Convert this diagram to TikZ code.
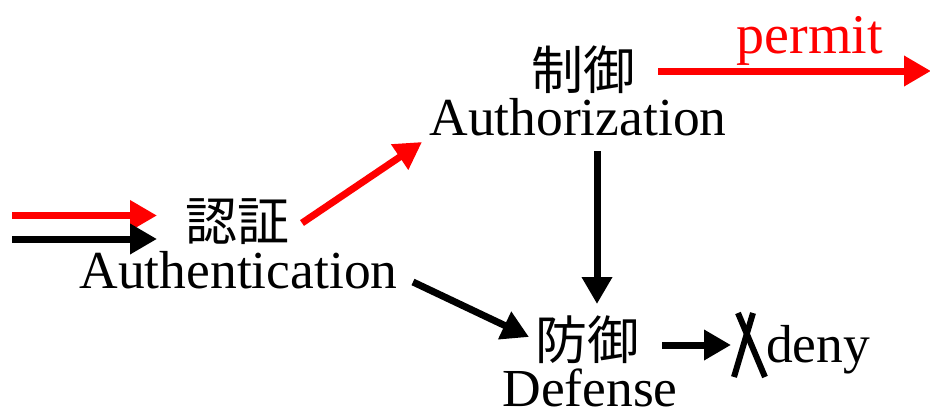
\documentclass[tikz,border=0pt]{standalone}
\usepackage{fontspec}
\setmainfont{Liberation Serif}
\newfontfamily\cjk{Noto Sans CJK JP}
\usetikzlibrary{arrows.meta}
\tikzset{
  jp/.style={inner sep=0pt, font=\cjk\fontsize{52}{58}\selectfont},
  en/.style={inner sep=0pt, anchor=base, font=\fontsize{53.5}{60}\selectfont},
  arr/.style={line width=7pt, -{Triangle[length=27pt,width=29pt]}},
  redarr/.style={arr, draw=red, color=red},
  blkarr/.style={arr, draw=black}
}
\begin{document}
\begin{tikzpicture}[x=1pt,y=-1pt]
\useasboundingbox (0,0) rectangle (930,410);
% nodes
\node[jp] (ninsho) at (237,222) {認証};
\node[en] (authn) at (238.5,288) {Authentication};
\node[jp] (seigyo) at (583,70) {制御};
\node[en] (authz) at (578,135) {Authorization};
\node[jp] (bogyo) at (587,340) {防御};
\node[en] (def) at (590,406) {Defense};
\node[en, anchor=base west] (deny) at (766,362) {deny};
\node[en, text=red, font=\fontsize{56}{62}\selectfont] (permit) at (810,53) {permit};
% coordinates
\coordinate (inR) at (12,215.5);
\coordinate (inRe) at (157,215.5);
\coordinate (inB) at (12,239);
\coordinate (inBe) at (157,239);
\coordinate (nS) at (302,223);
\coordinate (nE) at (422,142);
\coordinate (aS) at (413,282);
\coordinate (aE) at (529,337);
\coordinate (zS) at (597,151);
\coordinate (zE) at (597,304);
\coordinate (pS) at (658,71);
\coordinate (pE) at (931,71);
\coordinate (dS) at (662,345);
\coordinate (dE) at (731,345);
% arrows
\draw[redarr] (inR) -- (inRe);
\draw[blkarr] (inB) -- (inBe);
\draw[redarr] (nS) -- (nE);
\draw[blkarr] (aS) -- (aE);
\draw[blkarr] (zS) -- (zE);
\draw[redarr] (pS) -- (pE);
\draw[blkarr] (dS) -- (dE);
% X mark
\draw[line width=6pt] (738,313) -- (765,377);
\draw[line width=6pt] (753,313) -- (734,377);
\end{tikzpicture}
\end{document}
